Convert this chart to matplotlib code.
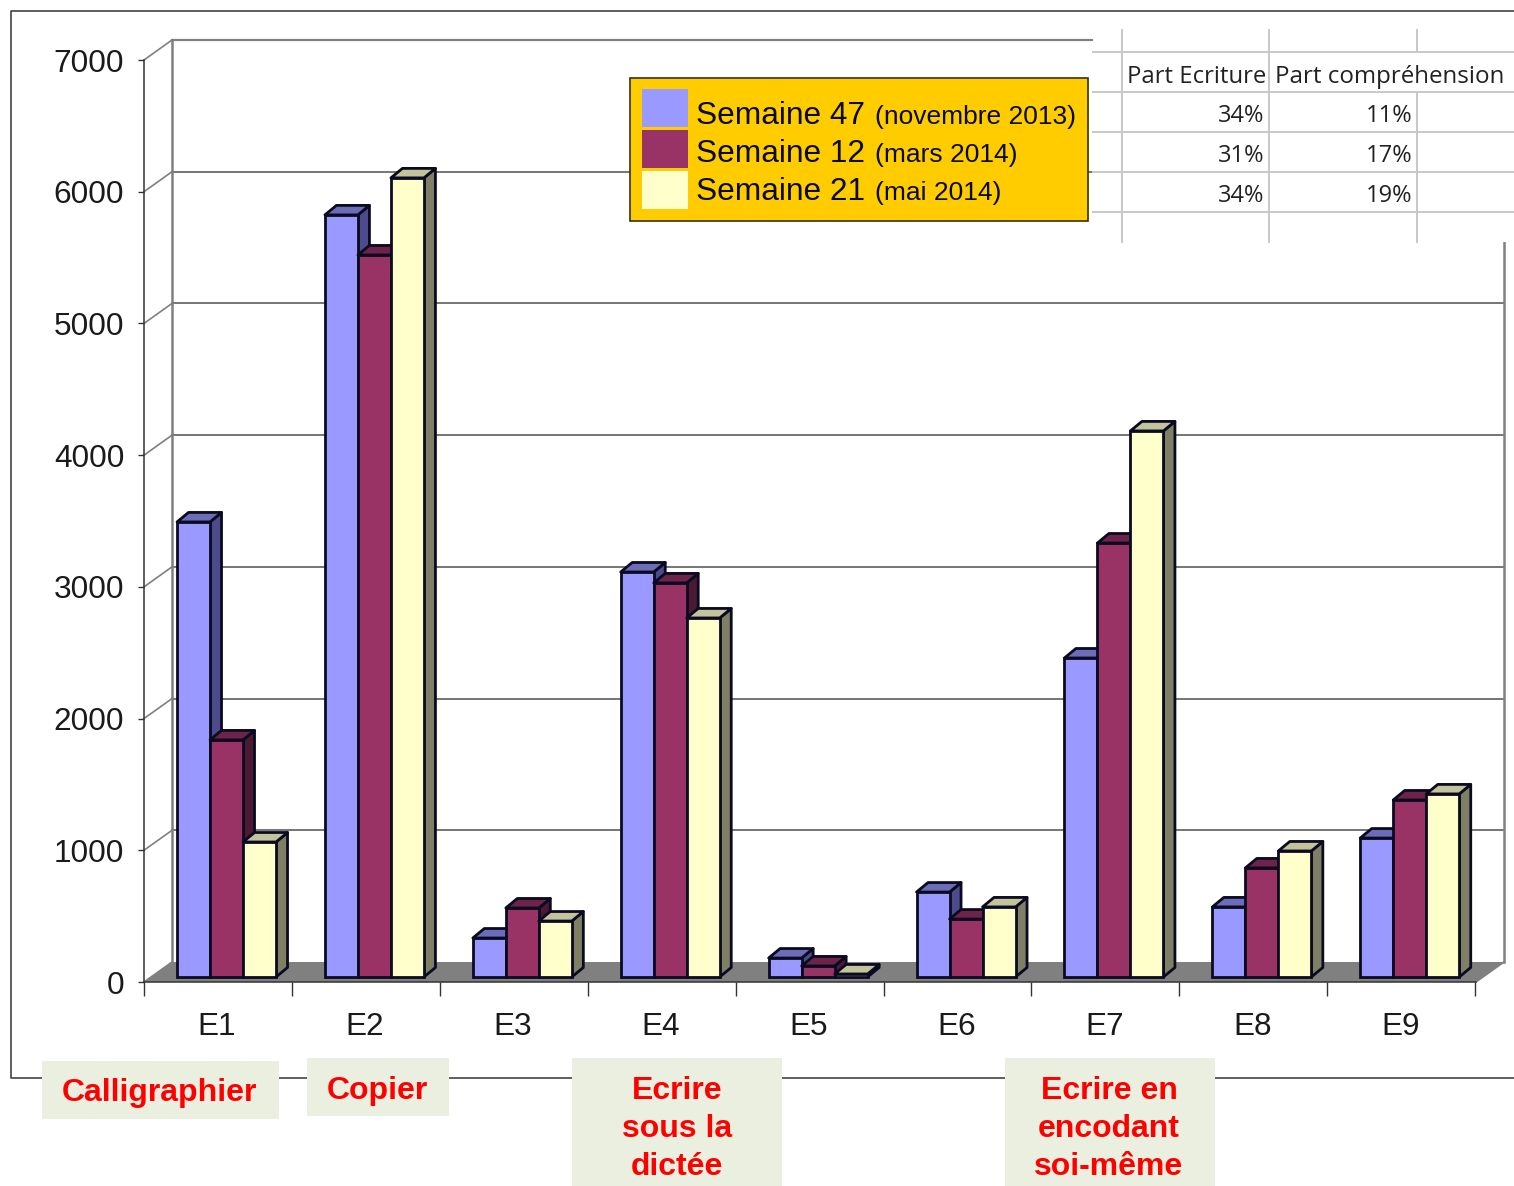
import matplotlib
matplotlib.use("Agg")
import matplotlib.pyplot as plt
from matplotlib.patches import Polygon, Rectangle

plt.rcParams['font.family'] = ['Liberation Sans', 'DejaVu Sans']

categories = ['E1', 'E2', 'E3', 'E4', 'E5', 'E6', 'E7', 'E8', 'E9']
semaine_47 = [3455, 5786, 296, 3075, 144, 645, 2422, 532, 1055]
semaine_12 = [1800, 5482, 524, 2992, 84, 440, 3295, 828, 1344]
semaine_21 = [1025, 6067, 425, 2726, 23, 532, 4146, 957, 1390]
y_ticks = [0, 1000, 2000, 3000, 4000, 5000, 6000, 7000]

legend_main = ['Semaine 47', 'Semaine 12', 'Semaine 21']
legend_detail = ['(novembre 2013)', '(mars 2014)', '(mai 2014)']
table_header = ['Part Ecriture', 'Part compréhension']
part_ecriture = ['34%', '31%', '34%']
part_comprehension = ['11%', '17%', '19%']

W, H = 1514, 1186
fig = plt.figure(figsize=(W / 100, H / 100), dpi=100, facecolor='white')
ax = fig.add_axes([144 / W, 1 - 982 / H, (1476 - 144) / W, (982 - 60) / H])
ax.set_facecolor('none')
ax.set_xlim(-0.558, 8.448)
ax.set_ylim(0, 7000)

px_x = 147.9          # pixels per category
px_y = 922 / 7000     # pixels per value unit
wall_dx, wall_dy = 28 / px_x, 20 / px_y
x_l, x_r = ax.get_xlim()

# floor
ax.add_patch(Polygon([(x_l, 0), (x_r, 0), (x_r + wall_dx, wall_dy), (x_l + wall_dx, wall_dy)],
                     fc='#808080', ec='none', clip_on=False, zorder=1))
# walls and gridlines
for v in y_ticks:
    ax.plot([x_l, x_l + wall_dx], [v, v + wall_dy], color='#808080', lw=1.2, clip_on=False, zorder=1.2)
    if v > 0:
        ax.plot([x_l + wall_dx, x_r + wall_dx], [v + wall_dy] * 2, color='#505050' if v < 7000 else '#808080',
                lw=1.1 if v < 7000 else 1.6, clip_on=False, zorder=1.2)
ax.plot([x_l + wall_dx] * 2, [wall_dy, 7000 + wall_dy], color='#808080', lw=1.8, clip_on=False, zorder=1.3)
ax.plot([x_r + wall_dx] * 2, [wall_dy, 7000 + wall_dy], color='#808080', lw=1.8, clip_on=False, zorder=1.3)
ax.plot([x_r, x_r + wall_dx], [0, wall_dy], color='#808080', lw=1.2, clip_on=False, zorder=1.3)

# 3D bars
bar_w = 33 / px_x
depth_x, depth_y = 11.5 / px_x, 9.5 / px_y
base = 5 / px_y
series = [(semaine_47, '#9999FF', '#4C4C8C', '#6C6CB8'),
          (semaine_12, '#993366', '#4C1933', '#6E2449'),
          (semaine_21, '#FFFFCC', '#7F7F66', '#C4C49C')]
edge = '#0A0A20'
z = 3.0
for i in range(len(categories)):
    for k, (vals, front, side, top) in enumerate(series):
        x0 = i + (k - 1.5) * bar_w
        x1 = x0 + bar_w
        t = base + vals[i]
        kw = dict(ec=edge, lw=2.0, clip_on=False, joinstyle='round')
        ax.add_patch(Polygon([(x1, base), (x1 + depth_x, base + depth_y), (x1 + depth_x, t + depth_y), (x1, t)],
                             fc=side, zorder=z, **kw))
        ax.add_patch(Polygon([(x0, t), (x1, t), (x1 + depth_x, t + depth_y), (x0 + depth_x, t + depth_y)],
                             fc=top, zorder=z, **kw))
        ax.bar(x0, vals[i], width=bar_w, bottom=base, align='edge', color=front,
               edgecolor=edge, linewidth=2.0, zorder=z + 0.1, clip_on=False)
        z += 0.2

# axes
for s in ['top', 'right']:
    ax.spines[s].set_visible(False)
for s in ['left', 'bottom']:
    ax.spines[s].set_color('#333333')
    ax.spines[s].set_linewidth(1.1)
    ax.spines[s].set_zorder(2)
ax.set_yticks(y_ticks)
ax.tick_params(axis='y', length=4.3, width=1, color='#333333', pad=10, labelsize=22.7, labelcolor='#1a1a1a')
ax.set_xticks([j - 0.065 for j in range(len(categories))])
ax.set_xticklabels(categories)
ax.tick_params(axis='x', which='major', length=0, pad=21.5, labelsize=22.7, labelcolor='#1a1a1a')
ax.set_xticks([j - 0.558 for j in range(len(categories) + 1)], minor=True)
ax.tick_params(axis='x', which='minor', length=10, width=1, color='#333333')

# overlay in figure pixels for pasted-in table, legend, annotations, frame
ov = fig.add_axes([0, 0, 1, 1], zorder=10)
ov.set_xlim(0, W)
ov.set_ylim(H, 0)
ov.axis('off')
ov.patch.set_alpha(0)

# outer frame
ov.plot([1514, 11, 11, 1514], [11, 11, 1078, 1078], color='#444444', lw=1.2, zorder=1)

# pasted table
ov.add_patch(Rectangle((1093, 12), 421, 230, fc='white', ec='none', zorder=2))
grid = '#c8c8c8'
for y in [52, 92, 132, 172, 212]:
    ov.plot([1093, 1514], [y, y], color=grid, lw=1.4, zorder=3)
ov.plot([1122, 1122], [30, 242], color=grid, lw=1.4, zorder=3)
ov.plot([1269, 1269], [30, 242], color=grid, lw=1.4, zorder=3)
ov.plot([1417, 1417], [30, 52], color=grid, lw=1.4, zorder=3)
ov.plot([1417, 1417], [92, 242], color=grid, lw=1.4, zorder=3)
tfont = ['Open Sans', 'DejaVu Sans']
ov.text(1127, 83, table_header[0], family=tfont, fontsize=17.2, color='#222222', va='baseline', ha='left', zorder=4)
ov.text(1275, 83, table_header[1], family=tfont, fontsize=17.4, color='#222222', va='baseline', ha='left', zorder=4)
for j, yb in enumerate([122, 162, 202]):
    ov.text(1264, yb, part_ecriture[j], family=tfont, fontsize=17, color='#222222', va='baseline', ha='right', zorder=4)
    ov.text(1412, yb, part_comprehension[j], family=tfont, fontsize=17, color='#222222', va='baseline', ha='right', zorder=4)

# legend
ov.add_patch(Rectangle((630, 78), 458, 143, fc='#FFCC00', ec='#3a3000', lw=1.2, zorder=5))
sw_y = [89, 130, 171]
bases = [124, 162, 200]
for j, (_, front, _, _) in enumerate(series):
    ov.add_patch(Rectangle((642, sw_y[j]), 46, 38, fc=front, ec='none', zorder=6))
    ov.text(696, bases[j], legend_main[j], fontsize=22.8, color='#0a0a0a', va='baseline', ha='left', zorder=6)
    ov.text(875, bases[j], legend_detail[j], fontsize=19, color='#0a0a0a', va='baseline', ha='left', zorder=6)

# annotations
note_bg = '#EBEFE0'
notes = [((42, 1061, 237, 58), 'Calligraphier', 159, [1093]),
         ((307, 1058, 142, 58), 'Copier', 377, [1091]),
         ((572, 1058, 210, 128), 'Ecrire\nsous la\ndictée', 677, [1091, 1129, 1167]),
         ((1005, 1058, 210, 128), 'Ecrire en\nencodant\nsoi-même', 1109, [1091, 1129, 1167])]
for (x, y, w, h), txt, cx, ys in notes:
    ov.add_patch(Rectangle((x, y), w, h, fc=note_bg, ec='none', zorder=7))
    for line, yy in zip(txt.split('\n'), ys):
        ov.text(cx, yy, line, fontsize=23, fontweight='bold', color='#FF0000', ha='center', va='center', zorder=8)

fig.savefig('out.png', dpi=100)
